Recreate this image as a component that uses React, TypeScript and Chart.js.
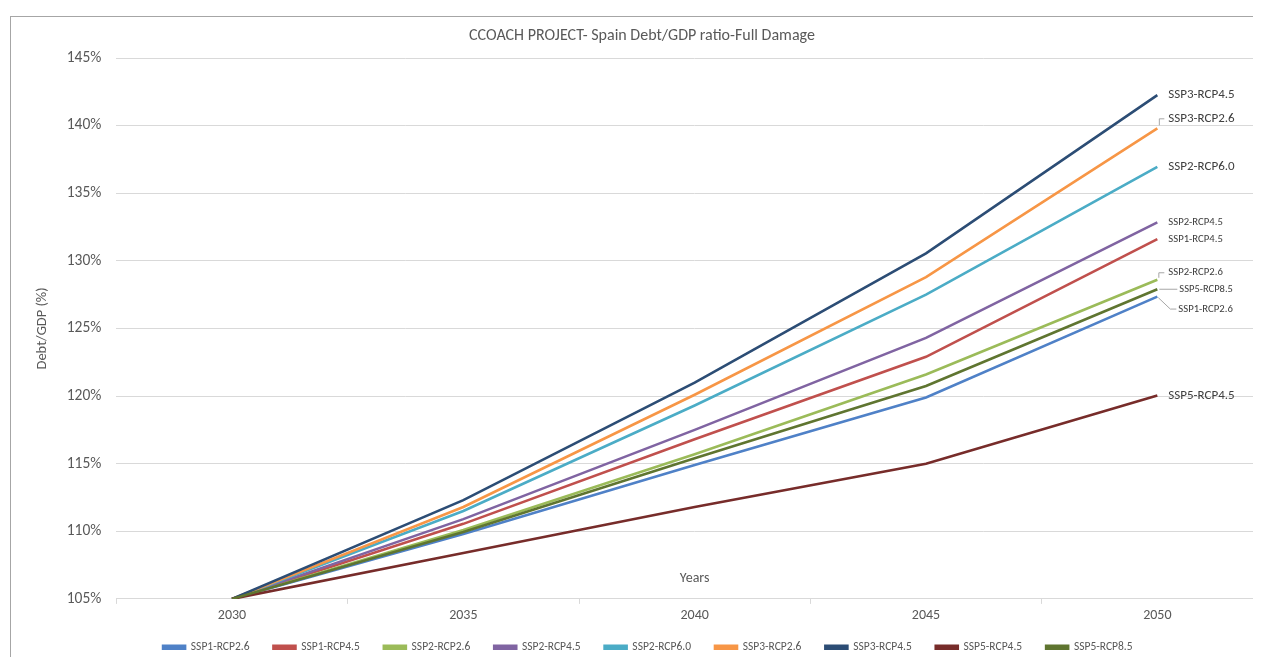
import React, { useEffect, useRef } from "react";
import { Chart, registerables } from "chart.js";

Chart.register(...registerables);

const years = ["2030", "2035", "2040", "2045", "2050"];
const yTicks = [105, 110, 115, 120, 125, 130, 135, 140, 145];

const ssp1Rcp26 = [105, 109.8, 114.9, 119.9, 127.35];
const ssp1Rcp45 = [105, 110.55, 116.8, 122.9, 131.6];
const ssp2Rcp26 = [105, 110.1, 115.7, 121.6, 128.6];
const ssp2Rcp45 = [105, 110.9, 117.5, 124.3, 132.85];
const ssp2Rcp60 = [105, 111.5, 119.3, 127.5, 136.95];
const ssp3Rcp26 = [105, 111.8, 120.1, 128.8, 139.8];
const ssp3Rcp45 = [105, 112.3, 121.0, 130.55, 142.25];
const ssp5Rcp45 = [105, 108.4, 111.8, 115.0, 120.05];
const ssp5Rcp85 = [105, 109.95, 115.4, 120.75, 127.9];

const seriesNames = [
  "SSP1-RCP2.6",
  "SSP1-RCP4.5",
  "SSP2-RCP2.6",
  "SSP2-RCP4.5",
  "SSP2-RCP6.0",
  "SSP3-RCP2.6",
  "SSP3-RCP4.5",
  "SSP5-RCP4.5",
  "SSP5-RCP8.5",
];
const seriesValues = [
  ssp1Rcp26,
  ssp1Rcp45,
  ssp2Rcp26,
  ssp2Rcp45,
  ssp2Rcp60,
  ssp3Rcp26,
  ssp3Rcp45,
  ssp5Rcp45,
  ssp5Rcp85,
];
const seriesColors = [
  "#4F81C7",
  "#C0504D",
  "#9BBB59",
  "#8064A2",
  "#4BACC6",
  "#F79646",
  "#2C4D75",
  "#772C2A",
  "#5F7530",
];

// end-label styling: offset from last point, font size, optional leader polyline (relative)
const labelStyles: { dx: number; dy: number; size: number; leader?: number[][] }[] = [
  { dx: 21, dy: 12.4, size: 10.7, leader: [[1, 1], [13, 12.4], [19, 12.4]] },
  { dx: 11, dy: 0, size: 10.7 },
  { dx: 11, dy: -7, size: 10.7, leader: [[1.5, -2], [1.5, -7], [7, -7]] },
  { dx: 11, dy: 0, size: 10.7 },
  { dx: 11, dy: 0, size: 13 },
  { dx: 11, dy: -9.5, size: 13, leader: [[2, -3], [2, -9.5], [7, -9.5]] },
  { dx: 11, dy: 0, size: 13 },
  { dx: 11, dy: 0.5, size: 13 },
  { dx: 22, dy: 0, size: 10.5, leader: [[2, 0], [20, 0]] },
];

const FONT = "Carlito, Calibri, Lato, 'Open Sans', sans-serif";

const endLabelPlugin = {
  id: "endLabels",
  afterLayout(chart: any) {
    if (chart.legend) {
      chart.legend.left += 11;
      chart.legend.right += 11;
    }
  },
  afterDatasetsDraw(chart: any) {
    const ctx = chart.ctx;
    ctx.save();
    chart.data.datasets.forEach((ds: any, i: number) => {
      const meta = chart.getDatasetMeta(i);
      const pt = meta.data[meta.data.length - 1];
      if (!pt) return;
      const s = labelStyles[i];
      if (s.leader) {
        ctx.strokeStyle = "#A6A6A6";
        ctx.lineWidth = 1;
        ctx.beginPath();
        s.leader.forEach((p, k) => {
          const x = pt.x + p[0];
          const y = pt.y + p[1];
          if (k === 0) ctx.moveTo(x, y);
          else ctx.lineTo(x, y);
        });
        ctx.stroke();
      }
      ctx.fillStyle = "#404040";
      ctx.font = `${s.size}px ${FONT}`;
      ctx.textAlign = "left";
      ctx.textBaseline = "middle";
      ctx.fillText(ds.label, pt.x + s.dx, pt.y + s.dy);
    });
    ctx.restore();
  },
  afterDraw(chart: any) {
    const ctx = chart.ctx;
    const a = chart.chartArea;
    ctx.save();
    ctx.fillStyle = "#595959";
    ctx.font = `14px ${FONT}`;
    ctx.textAlign = "center";
    ctx.textBaseline = "middle";
    ctx.fillText("Years", (a.left + a.right) / 2, a.bottom - 20);
    ctx.restore();
  },
};

export default function App() {
  const ref = useRef<HTMLCanvasElement | null>(null);

  useEffect(() => {
    if (!ref.current) return;
    const n = seriesNames.length;
    const chart = new Chart(ref.current, {
      type: "line",
      data: {
        labels: years,
        datasets: seriesNames.map((name, i) => ({
          label: name,
          data: seriesValues[i],
          borderColor: seriesColors[i],
          backgroundColor: seriesColors[i],
          borderWidth: 2.6,
          pointRadius: 0,
          tension: 0,
          order: n - i,
        })),
      },
      options: {
        animation: false,
        responsive: false,
        maintainAspectRatio: false,
        layout: { padding: { left: 0, right: 0, top: 0, bottom: 0 } },
        plugins: {
          tooltip: { enabled: false },
          title: {
            display: true,
            text: "CCOACH PROJECT- Spain Debt/GDP ratio-Full Damage",
            color: "#595959",
            font: { family: FONT, size: 16, weight: "normal" },
            padding: { top: 9.4, bottom: 12.4 },
          },
          legend: {
            position: "bottom",
            labels: {
              color: "#595959",
              font: { family: FONT, size: 11.5 },
              boxWidth: 22,
              boxHeight: 3,
              padding: 13.6,
              sort: (a: any, b: any) => a.datasetIndex - b.datasetIndex,
              generateLabels: (chart: any) =>
                Chart.defaults.plugins.legend.labels
                  .generateLabels(chart)
                  .map((it: any) => ({ ...it, text: it.text + "\u00a0\u00a0\u00a0\u00a0" })),
            },
          },
        },
        scales: {
          x: {
            type: "category",
            offset: true,
            grid: {
              offset: true,
              drawOnChartArea: false,
              drawTicks: true,
              tickLength: 5,
              color: "#D9D9D9",
            },
            border: { display: true, color: "#D9D9D9" },
            ticks: {
              color: "#595959",
              font: { family: FONT, size: 14 },
              padding: 3.6,
            },
          },
          y: {
            min: 105,
            max: 145,
            afterBuildTicks: (axis: any) => {
              axis.ticks = yTicks.map((v) => ({ value: v }));
            },
            grid: { color: "#D9D9D9", drawTicks: false },
            border: { display: false },
            ticks: {
              color: "#595959",
              font: { family: FONT, size: 15.5 },
              padding: 15,
              callback: (v: any) => `${v}%`,
            },
            title: {
              display: true,
              text: "Debt/GDP (%)",
              color: "#595959",
              font: { family: FONT, size: 14.5 },
              padding: { top: 22.3, bottom: 1 },
            },
          },
        },
      },
      plugins: [endLabelPlugin],
    } as any);
    return () => chart.destroy();
  }, []);

  return (
    <div style={{ position: "relative", width: 1253, height: 649, overflow: "hidden" }}>
      <div
        style={{
          position: "absolute",
          left: 2,
          top: 8,
          width: 1300,
          height: 700,
          borderLeft: "1px solid #A6A6A6",
          borderTop: "1px solid #A6A6A6",
          background: "#fff",
        }}
      >
        <canvas ref={ref} width={1262} height={646} style={{ display: "block" }} />
      </div>
    </div>
  );
}
